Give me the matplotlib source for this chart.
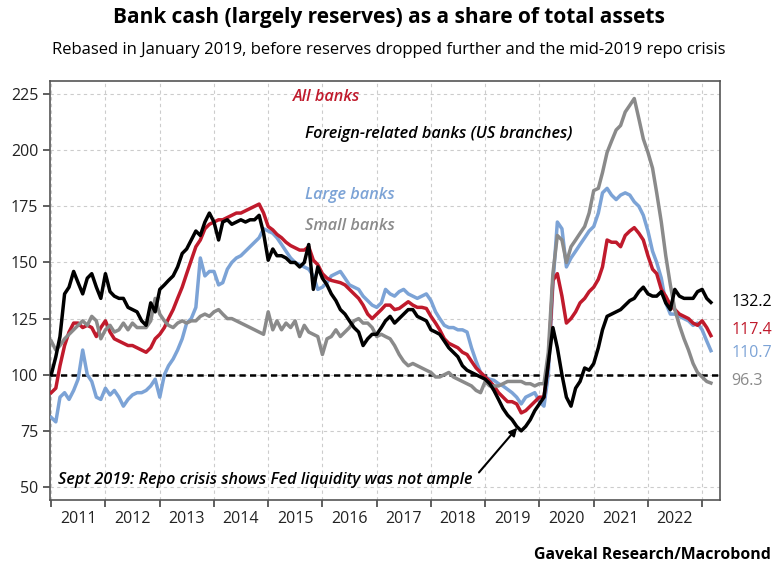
import numpy as np
import pandas as pd
import matplotlib
matplotlib.use('Agg')
import matplotlib.pyplot as plt
import matplotlib.dates as mdates
from matplotlib.ticker import NullFormatter

# monthly readings, Jan 2011 - Mar 2023 (rebased, Jan 2019 = 100)
dates = pd.date_range('2011-01-01', periods=147, freq='MS')

foreign = [100, 108, 117, 136, 139, 146, 141, 136, 143, 145, 139, 134,
           145, 137, 135, 134, 134, 130, 129, 128, 124, 122, 132, 128,
           138, 140, 142, 144, 148, 154, 156, 160, 164, 162, 168, 172,
           168, 160, 168, 169, 167, 168, 169, 168, 169, 169, 171, 163,
           151, 156, 153, 153, 152, 150, 150, 148, 150, 158, 138, 148,
           143, 140, 136, 133, 129, 127, 124, 121, 119, 113, 116, 118,
           118, 121, 124, 126, 123, 125, 127, 129, 129, 126, 125, 124,
           120, 119, 118, 115, 112, 110, 108, 104, 102, 101, 100, 99,
           98, 96, 93, 89, 85, 82, 80, 77, 75, 77, 80, 84,
           87, 90, 105, 121, 112, 100, 90, 86, 94, 97, 103, 102,
           105, 112, 120, 126, 127, 128, 129, 131, 133, 134, 137, 139,
           136, 135, 135, 137, 132, 129, 138, 135, 134, 134, 134, 137,
           138, 134, 132.2]

all_banks = [92, 94, 104, 113, 119, 123, 123, 121, 122, 121, 117, 121,
             124, 119, 116, 115, 114, 113, 113, 112, 111, 110, 112, 116,
             118, 121, 125, 129, 134, 139, 145, 151, 157, 160, 165, 167,
             168, 169, 169, 170, 171, 172, 172, 173, 174, 175, 176, 172,
             166, 164.5, 162.5, 161, 159, 157.5, 156.5, 155.5, 155.5, 157, 151, 149,
             145, 143, 142, 141.5, 141, 140, 138, 136, 134, 131, 127, 125,
             127, 129, 131, 131, 129, 129.5, 131, 132.5, 131, 130, 130, 129.5,
             126, 123, 120, 116, 114, 113, 112, 110, 109, 106, 103, 101,
             99, 97, 95, 92, 90, 88, 88, 87, 83, 84, 86, 88,
             90, 90, 105, 142, 145, 135, 123, 125, 128, 132, 134, 137,
             139, 142.5, 148, 160, 159, 159, 157, 162, 164, 165.5, 163, 160,
             153, 147, 145, 138, 135, 131, 129, 127, 126, 125, 123, 122,
             124, 121, 117.4]

large = [81, 79, 90, 92, 89, 93, 98, 111, 100, 97, 90, 89,
         94, 91, 93, 90, 86, 89, 91, 92, 92, 93, 95, 98,
         90, 100, 104, 107, 111, 116, 123, 125, 130, 152, 144, 146,
         146, 140, 141, 147, 150, 152, 153, 155, 157, 159, 161, 165,
         164, 163, 161, 158, 155, 152, 150, 149, 148, 147, 144, 138,
         139, 141, 144, 145, 146, 143, 140, 139, 138, 135, 133, 131,
         130, 132, 138, 136, 135, 137, 138, 136, 135, 134, 135, 136,
         133, 128, 125, 122, 121, 121, 120, 120, 119, 112, 106, 101,
         99, 98, 97.5, 96, 95, 93.5, 92, 90, 87, 90, 91, 92,
         88, 86, 100, 140, 168, 165, 148, 152, 155, 158, 161, 164,
         166, 172, 181, 183, 180, 178, 180, 181, 180, 177, 175, 171,
         164, 155, 150, 143, 132, 127, 127, 126, 125, 124, 122, 123,
         120, 115, 110.7]

small = [115, 111, 113, 116, 118, 120, 122, 124, 122, 126, 124, 116,
         120, 122, 119, 120, 123, 120, 123, 121, 121, 121, 124, 134,
         127, 124, 122, 121, 123, 124, 123, 124, 124, 126, 127, 126,
         128, 129, 127, 125, 125, 124, 123, 122, 121, 120, 119, 118,
         128, 120, 124, 120, 123, 121, 124, 117, 122, 119, 118, 117,
         109, 116, 117, 120, 117, 119, 121, 124, 125, 123, 123, 121,
         117, 118, 117, 116, 113, 109, 106, 104, 105, 104, 103, 102,
         101, 99, 99, 100, 101, 99, 98, 97, 96, 95, 93, 92,
         97, 95, 95, 95, 96, 97, 97, 97, 97, 96, 96, 95,
         96, 96, 110, 145, 162, 160, 150, 157, 160, 163, 166, 172,
         182, 183, 190, 199, 204, 209, 211, 217, 220, 223, 214, 205,
         199, 192, 181, 168, 153, 140, 129, 122, 116, 111, 105, 101,
         99, 97, 96.3]

RED = '#c01a2c'
BLUE = '#7ca3d6'
GREY = '#8a8a8a'

plt.rcParams['font.family'] = ['Open Sans', 'DejaVu Sans']

fig = plt.figure(figsize=(7.78, 5.75), dpi=100)
ax = fig.add_axes([0.0643, 0.1304, 0.8611, 0.7287])

ax.axhline(100, color='black', ls=(0, (2.5, 1.7)), lw=1.8, zorder=2)
ax.plot(dates, large, color=BLUE, lw=2.5, zorder=3)
ax.plot(dates, all_banks, color=RED, lw=2.5, zorder=4)
ax.plot(dates, small, color=GREY, lw=2.5, zorder=5)
ax.plot(dates, foreign, color='black', lw=2.5, zorder=6)

ax.set_xlim(pd.Timestamp('2010-12-24'), pd.Timestamp('2023-05-01'))
ax.set_ylim(44.2, 230.8)
ax.set_yticks([50, 75, 100, 125, 150, 175, 200, 225])

ax.xaxis.set_major_locator(mdates.YearLocator())
ax.xaxis.set_major_formatter(NullFormatter())
ax.xaxis.set_minor_locator(mdates.MonthLocator(bymonth=7, bymonthday=1))
ax.xaxis.set_minor_formatter(mdates.DateFormatter('%Y'))
ax.tick_params(axis='x', which='minor', length=0, labelsize=11.5, pad=8, colors='#222222')
ax.tick_params(axis='x', which='major', length=5, width=1.2, color='#444444')
ax.tick_params(axis='y', length=5, width=1.2, color='#444444', labelsize=11.5, labelcolor='#222222')

ax.grid(True, which='major', ls=(0, (3, 3)), color='#cccccc', lw=0.8)
for s in ax.spines.values():
    s.set_color('#555555')
    s.set_linewidth(1.2)

# series labels
kw = dict(transform=ax.transAxes, fontsize=11.7, fontstyle='italic', fontweight='semibold', va='center')
ax.text(0.363, 0.962, 'All banks', color=RED, **kw)
ax.text(0.381, 0.873, 'Foreign-related banks (US branches)', color='black', **kw)
ax.text(0.381, 0.728, 'Large banks', color=BLUE, **kw)
ax.text(0.381, 0.654, 'Small banks', color=GREY, **kw)

# last values on the right
yt = ax.get_yaxis_transform()
for vals, c, ypos in [(foreign, 'black', 132.6), (all_banks, RED, 120),
                      (large, BLUE, 109.8), (small, GREY, 97)]:
    ax.text(1.017, ypos, f'{vals[-1]:.1f}', color=c, fontsize=11.5, va='center', transform=yt)

ax.annotate('Sept 2019: Repo crisis shows Fed liquidity was not ample',
            xy=(pd.Timestamp('2019-08-05'), 76.4), xytext=(0.012, 0.048),
            textcoords='axes fraction', fontsize=11.6, fontstyle='italic',
            fontweight='semibold', va='center',
            arrowprops=dict(arrowstyle='-|>', color='black', lw=1.5,
                            shrinkA=4, shrinkB=0,
                            relpos=(1.0, 0.5)))

fig.text(0.5, 0.97, 'Bank cash (largely reserves) as a share of total assets',
         ha='center', va='center', fontsize=15, fontweight='bold')
fig.text(0.5, 0.913, 'Rebased in January 2019, before reserves dropped further and the mid-2019 repo crisis',
         ha='center', va='center', fontsize=12)
fig.text(0.991, 0.035, 'Gavekal Research/Macrobond', ha='right', va='center',
         fontsize=11.4, fontweight='bold')

fig.savefig('out.png', dpi=100)
